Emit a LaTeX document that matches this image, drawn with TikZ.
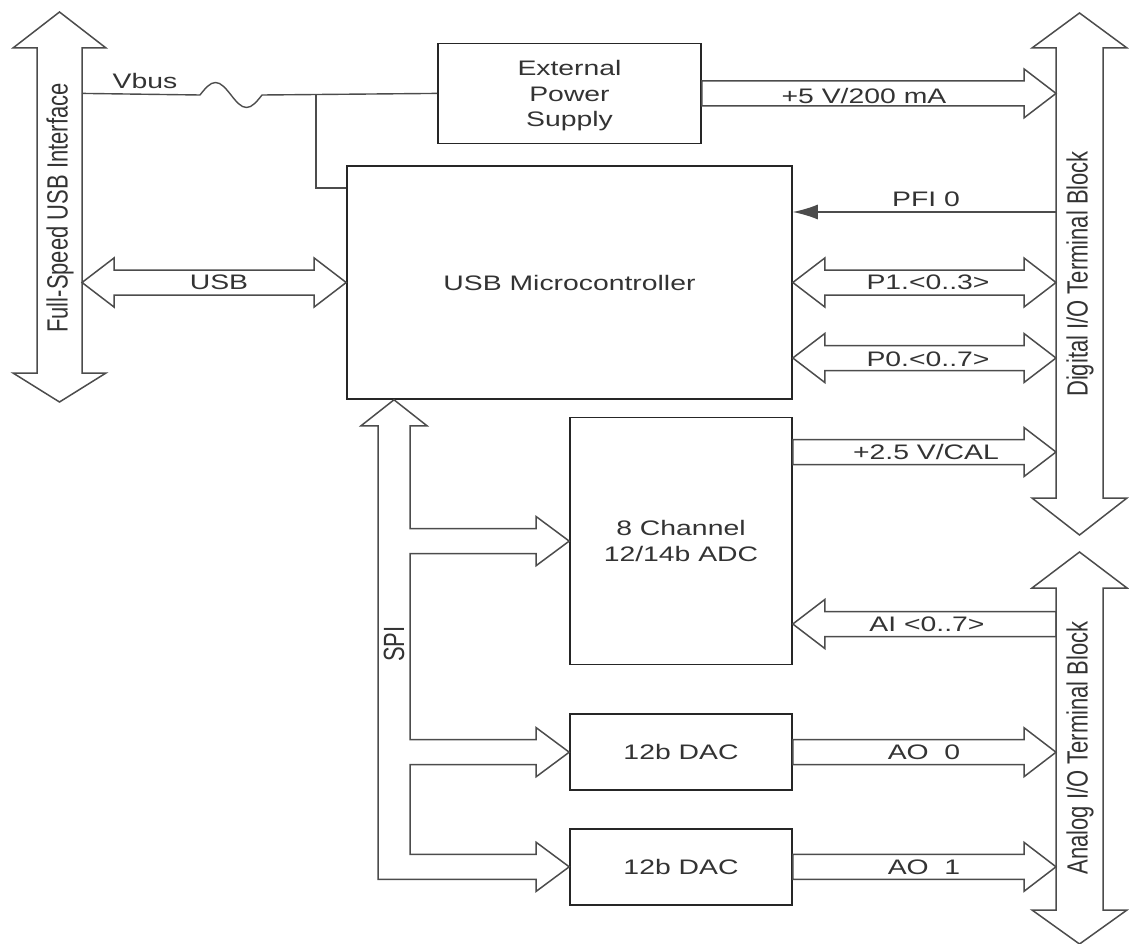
\documentclass[tikz,border=0pt]{standalone}
\usepackage{fontspec}
\setmainfont{Liberation Sans}
\newfontfamily\widesans[FakeStretch=1.35]{Liberation Sans}
\usetikzlibrary{arrows.meta, positioning, calc}

\newcommand{\vtext}[1]{\scalebox{1}[1.33]{#1}}
\newcommand{\fatarrow}[2]{%
  \draw[bus] let \p1=#1, \p2=#2, \n1={sign(\x2-\x1)} in
    (\x1,\y1+12.5pt) -- ({\x2-\n1*32pt},\y1+12.5pt) -- ({\x2-\n1*32pt},\y1+24.5pt)
    -- (\x2,\y1) -- ({\x2-\n1*32pt},\y1-24.5pt) -- ({\x2-\n1*32pt},\y1-12.5pt)
    -- (\x1,\y1-12.5pt) -- cycle;}
\newcommand{\fatboth}[2]{%
  \draw[bus] let \p1=#1, \p2=#2, \n1={sign(\x2-\x1)} in
    (\x1,\y1) -- ({\x1+\n1*32pt},\y1+24.5pt) -- ({\x1+\n1*32pt},\y1+12.5pt)
    -- ({\x2-\n1*32pt},\y1+12.5pt) -- ({\x2-\n1*32pt},\y1+24.5pt) -- (\x2,\y1)
    -- ({\x2-\n1*32pt},\y1-24.5pt) -- ({\x2-\n1*32pt},\y1-12.5pt)
    -- ({\x1+\n1*32pt},\y1-12.5pt) -- ({\x1+\n1*32pt},\y1-24.5pt) -- cycle;}
\newcommand{\busbar}[3]{%
  \draw[bus] (#1.north west) -- ++(-24,0) -- ($(#1.north)+(0,-#2)$) -- ($(#1.north east)+(24,0)$)
    -- (#1.north east) -- (#1.south east) -- ++(24,0) -- ($(#1.south)+(0,#3)$)
    -- ($(#1.south west)+(-24,0)$) -- (#1.south west) -- cycle;}

\begin{document}
\begin{tikzpicture}[
    x=1pt, y=-1pt,
    font={\widesans\fontsize{21}{25.5}\selectfont},
    text=black!80,
    blk/.style={draw=black!85, line width=1.6pt, inner sep=0pt, align=center},
    shaft/.style={inner sep=0pt, outer sep=0pt},
    bus/.style={draw=black!70, line width=1.5pt, line join=miter},
    wire/.style={draw=black!70, line width=1.4pt},
    sig/.style={wire, -{Latex[length=25pt, width=15pt]}},
    lbl/.style={inner sep=0pt, text height=15pt, text depth=0pt},
    buslbl/.style={inner sep=0pt, rotate=90, font={\rmfamily\fontsize{22}{26}\selectfont}},
    branch/.style={insert path={
      -- ($(spiin |- #1.west)+(0,-12.5)$) -- ($(#1.west)+(-33,-12.5)$) -- ($(#1.west)+(-33,-24.5)$)
      -- (#1.west) -- ($(#1.west)+(-33,24.5)$) -- ($(#1.west)+(-33,12.5)$)
      -- ($(spiin |- #1.west)+(0,12.5)$)}}
  ]
  \useasboundingbox (0,0) rectangle (1129,944);

  \node[blk, minimum width=445, minimum height=233] (mcu) at (569.5,282.5) {USB Microcontroller};
  \node[blk, minimum width=263, minimum height=100, text depth=0pt, above=21pt of mcu] (eps) {External\\Power\\Supply};
  \node[blk, minimum width=222, minimum height=247, below=17pt of mcu.south east, anchor=north east] (adc) {8 Channel\\12/14b ADC};
  \node[blk, minimum width=222, minimum height=76, below=48pt of adc] (dac0) {12b DAC};
  \node[blk, minimum width=222, minimum height=76, below=37pt of dac0] (dac1) {12b DAC};

  \node[shaft, minimum width=45, minimum height=325] (usbbus) at (59.5,210.5) {};
  \node[shaft, minimum width=47, minimum height=450] (dio) at (1079.5,273) {};
  \node[shaft, minimum width=47, minimum height=322] (aio) at (1079.5,749) {};
  \busbar{usbbus}{36}{29}
  \busbar{dio}{35}{37}
  \busbar{aio}{36}{34}
  \node[buslbl] (usbtxt) at (60,208) {\vtext{Full-Speed USB Interface}};
  \node[buslbl] (diotxt) at (1080,274) {\vtext{Digital I/O Terminal Block}};
  \node[buslbl] (aiotxt) at (1080,748) {\vtext{Analog I/O Terminal Block}};

  \coordinate (fuse) at (231,95);
  \coordinate (vtap) at (316,95);
  \coordinate (rTap) at (0,188);
  \coordinate (rPFI) at (0,212);
  \coordinate (rP0) at (0,358);
  \coordinate (rCAL) at (0,452);
  \coordinate (rAI) at (0,624);
  \coordinate (lblx) at (924,0);

  \draw[wire] (usbbus.east |- eps.west) -- ($(fuse)+(-31,0)$) sin ++(15.5,-12.5) cos ++(15.5,12.5)
    sin ++(15.5,12.5) cos ++(15.5,-12.5) -- (eps.west);
  \draw[wire] (vtap) |- (mcu.west |- rTap);
  \node[lbl] (vbustxt) at (145,81) {Vbus};

  \fatboth{(usbbus.east |- mcu.west)}{(mcu.west)}
  \node[lbl] (usblbl) at (219,282) {USB};

  \fatarrow{(eps.east)}{(dio.west |- eps.east)}
  \node[lbl] (p5txt) at (864,96) {+5 V/200 mA};
  \draw[sig] (dio.west |- rPFI) -- (mcu.east |- rPFI);
  \node[lbl] (pfitxt) at (926,199) {PFI 0};
  \fatboth{(mcu.east)}{(dio.west |- mcu.east)}
  \node[lbl] (p1txt) at (928,282) {P1.<0..3>};
  \fatboth{(mcu.east |- rP0)}{(dio.west |- rP0)}
  \node[lbl] (p0txt) at (928,359) {P0.<0..7>};
  \fatarrow{(adc.east |- rCAL)}{(dio.west |- rCAL)}
  \node[lbl] (caltxt) at (926,452) {+2.5 V/CAL};

  \fatarrow{(aio.west |- rAI)}{(adc.east |- rAI)}
  \node[lbl] (aitxt) at (927,624) {AI <0..7>};
  \fatarrow{(dac0.east)}{(aio.west |- dac0.east)}
  \node[lbl] (ao0txt) at (lblx |- dac0.east) {AO\ \ 0};
  \fatarrow{(dac1.east)}{(aio.west |- dac1.east)}
  \node[lbl] (ao1txt) at (lblx |- dac1.east) {AO\ \ 1};

  \coordinate (spix) at (394,0);
  \coordinate (spitip) at (spix |- mcu.south);
  \coordinate (spiin) at ($(spitip)+(16,26)$);
  \coordinate (spiout) at ($(spitip)+(-16,26)$);
  \draw[bus] (spitip) -- ($(spitip)+(33,26)$) -- (spiin) [branch=adc] [branch=dac0] [branch=dac1]
    -- ($(spiout |- dac1.west)+(0,12.5)$) -- (spiout) -- ($(spitip)+(-33,26)$) -- cycle;
  \node[buslbl] (spitxt) at (394,644) {\vtext{SPI}};
\end{tikzpicture}
\end{document}
